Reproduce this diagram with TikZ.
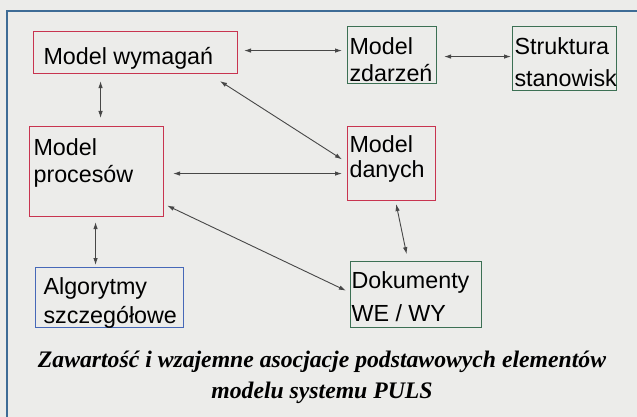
\documentclass[tikz,border=0pt]{standalone}
\usepackage{fontspec}
\setmainfont{Liberation Serif}
\setsansfont{Liberation Sans}
\usepackage{tikz}
\usetikzlibrary{arrows.meta}
\usetikzlibrary{positioning}
\tikzstyle{link}=[{Latex[length=7pt,width=4.5pt]}-{Latex[length=7pt,width=4.5pt]},draw=black!72,line width=0.9pt]
\tikzstyle{frame}=[draw=frame blue,line width=1.4pt]
% width, height, first baseline, left pad, line skip, text
\newcommand{\cell}[6]{\parbox[t][#2pt][t]{#1pt}{\leftskip=#4pt\baselineskip=#5pt\vspace*{\dimexpr#3pt-20pt\relax}\rule{0pt}{20pt}#6}}

\begin{document}
\begin{tikzpicture}[
  x=1pt,y=-1pt,
  box/.style={draw=#1,line width=1.1pt,inner sep=0pt,anchor=north west,font=\sffamily\fontsize{23.3}{27}\selectfont},
  red box/.style={box=puls red},
  green box/.style={box=puls green},
  blue box/.style={box=puls blue},
  caption/.style={inner sep=0pt,anchor=north,font=\fontsize{23.7}{31}\selectfont\bfseries\itshape},
]
  \definecolor{paper}{RGB}{236,236,234}
  \definecolor{frame blue}{RGB}{62,108,150}
  \definecolor{puls red}{RGB}{200,52,80}
  \definecolor{puls green}{RGB}{60,112,84}
  \definecolor{puls blue}{RGB}{70,104,184}
  \useasboundingbox (0,0) rectangle (637,417);
  \fill[paper] (0,0) rectangle (637,417);
  \draw[frame] (637,11) -- (7,11) -- (7,417);

  \node[red box] (wym) at (33,31) {\cell{204}{42}{32.5}{10}{27}{Model wymagań}};
  \node[green box] (zdar) at (347,26) {\cell{89}{57}{28}{2}{27}{Model\\zdarzeń}};
  \node[green box] (strukt) at (512,26) {\cell{104}{64}{28}{2}{32}{Struktura\\stanowisk}};
  \node[red box] (proc) at (29,126) {\cell{134}{90}{29}{4}{27}{Model\\procesów}};
  \node[red box] (dan) at (347,126) {\cell{88}{74}{26}{2}{25}{Model\\danych}};
  \node[blue box] (algo) at (35,267) {\cell{148}{60}{27}{8}{29}{Algorytmy\\szczegółowe}};
  \node[green box] (dok) at (350,261) {\cell{131}{66}{27}{1}{33}{Dokumenty\\WE / WY}};

  \draw[link,shorten <=6pt,shorten >=5pt] ([yshift=2pt]wym.east) -- ([yshift=4.5pt]zdar.west);
  \draw[link,shorten <=7pt,shorten >=1pt] ([yshift=-1.5pt]zdar.east) -- ([yshift=2pt]strukt.west);
  \draw[link,shorten <=7pt,shorten >=8pt] ([xshift=-35pt]wym.south) -- ([xshift=4pt]proc.north);
  \draw[link,shorten <=13pt,shorten >=6pt] ([xshift=-29pt]wym.south east) -- ([yshift=1pt]dan.west);
  \draw[link,shorten <=9pt,shorten >=5pt] ([yshift=-2pt]proc.east) -- ([yshift=-10pt]dan.west);
  \draw[link,shorten <=3.5pt,shorten >=4.5pt] ([yshift=13pt]proc.south east) -- ([yshift=2pt]dok.west);
  \draw[link,shorten <=3pt,shorten >=7pt] ([xshift=4pt]dan.south) -- ([xshift=-8pt]dok.north);
  \draw[link,shorten <=5pt,shorten >=2pt] ([xshift=-1pt]proc.south) -- ([xshift=-14pt]algo.north);

  \node[caption] (cap) at (322,345) {\parbox[t][60pt][t]{610pt}{\centering\vspace*{2pt}\rule{0pt}{20pt}Zawartość i wzajemne asocjacje podstawowych elementów\\modelu systemu PULS}};
\end{tikzpicture}
\end{document}
